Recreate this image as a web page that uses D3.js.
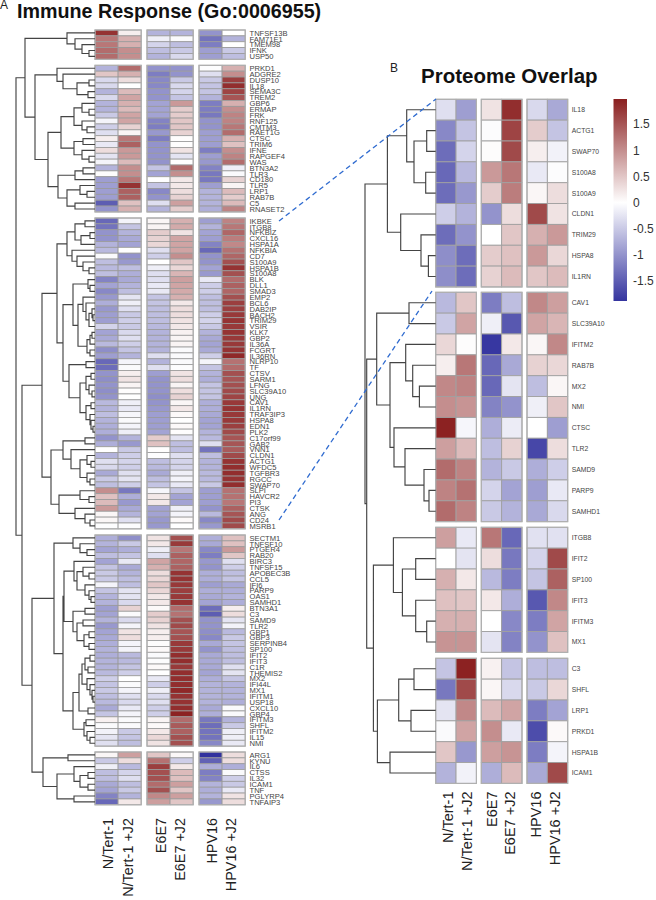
<!DOCTYPE html>
<html>
<head>
<meta charset="utf-8">
<script src="https://cdn.jsdelivr.net/npm/d3@7/dist/d3.min.js"></script>
<style>
html,body{margin:0;padding:0;background:#fff;overflow:hidden}
svg{display:block}
text{font-family:"Liberation Sans",Arial,sans-serif}
</style>
</head>
<body>
<svg id="chart" width="656" height="900"></svg>
<script>
const titleA = "Immune Response (Go:0006955)";
const titleB = "Proteome Overlap";
const conditions = ["N/Tert-1","N/Tert-1 +J2","E6E7","E6E7 +J2","HPV16","HPV16 +J2"];
const legendTicks = [1.5,1,0.5,0,-0.5,-1,-1.5];

// Panel A: genes per cluster
const genesA1 = ["TNFSF13B","FAM71E1","TMEM98","IFNK","USP50"];
const genesA2 = ["PRKD1","ADGRE2","DUSP10","IL18","SEMA3C","TREM2","GBP6","ERMAP","FRK","RNF125","CMTM3","RAET1G","CTSC","TRIM6","IFNE","RAPGEF4","WAS","BTN3A2","TLR3","CD180","TLR5","LRP1","RAB7B","C5","RNASET2"];
const genesA3 = ["IKBKE","ITGB8","NFKBIZ","CXCL16","HSPA1A","NFKBIA","CD7","S100A9","HSPA1B","S100A8","BLK","DLL1","SMAD3","EMP2","BCL6","DAB2IP","BACH2","TRIM29","VSIR","KLK7","GBP2","IL36A","FCGRT","IL36RN","NLRP10","TF","CTSV","SARM1","LFNG","SLC39A10","UNG","CAV1","IL1RN","TRAF3IP3","HSPA8","EDN1","PLK2","C17orf99","GAB2","VNN1","CLDN1","ACTG1","WFDC5","TGFBR3","RGCC","SWAP70","SLPI","HAVCR2","PI3","CTSK","ANG","CD24","MSRB1"];
const genesA4 = ["SECTM1","TNFSF10","PTGER4","RAB20","BIRC3","TNFSF15","APOBEC3B","CCL5","IFI6","PARP9","OAS1","SAMHD1","BTN3A1","C3","SAMD9","TLR2","GBP1","GBP3","SERPINB4","SP100","IFIT2","IFIT3","C1R","THEMIS2","MX2","IFI44L","MX1","IFITM1","USP18","CXCL10","GBP4","IFITM3","SHFL","IFITM2","IL15","NMI"];
const genesA5 = ["ARG1","KYNU","IL6","CTSS","IL32","ICAM1","TNF","PGLYRP4","TNFAIP3"];

const valuesA1 = [[1.8,0.15,-0.7,-0.7,-1.0,0],[1.2,0.7,-0.15,-0.05,-1.3,-0.7],[1.2,0.7,-0.4,-0.6,-1.2,0],[1.3,1.0,-0.6,-0.5,-0.9,-0.5],[1.3,1.0,-0.7,-0.35,-0.9,-0.6]];
const valuesA2 = [[-0.7,1.3,-1.0,-1.0,-0.02,0.7],[0.5,0.7,-1.2,-1.0,-0.3,1.0],[-0.35,0.3,-1.1,-0.5,-0.5,1.7],[-0.35,0,-1.1,-0.35,-0.55,1.85],[-0.7,0.6,-1.0,-0.4,-0.55,1.65],[-0.35,0.8,-1.0,-0.55,-0.7,1.5],[-0.7,0.7,-0.85,0.9,-1.2,0.7],[-0.7,0.6,-0.85,0.45,-1.2,1.0],[-0.5,0.8,-0.85,0.45,-1.25,1.1],[-0.1,0.8,-1.15,0.5,-1.0,1.1],[-0.45,0.4,-1.2,0.5,-1.0,1.2],[-0.3,0.1,-0.95,0.4,-0.9,1.3],[0.15,1.2,-1.2,0.02,-0.9,0.7],[-0.2,1.4,-1.0,0.02,-0.9,0.55],[0.3,0.9,-1.0,0.25,-1.2,1.0],[-0.25,0.9,-1.0,-0.25,-0.9,1.1],[-0.1,0.6,-1.0,0,-0.95,1.3],[-0.7,1.0,-0.55,1.3,-1.15,-0.15],[0.03,1.0,-0.85,1.0,-1.25,-0.05],[-0.9,1.2,0,0.2,-1.25,0.4],[-0.9,1.8,-0.55,0.2,-0.9,0.1],[-0.9,1.4,-1.1,0.3,-0.7,0.6],[-0.9,1.4,-1.0,0.4,-0.7,0.45],[-1.5,0.55,-0.3,0.85,-0.7,0.6],[-1.0,0.7,-0.7,0.45,-0.75,1.1]];
const valuesA3 = [[-1.4,-0.1,0.08,0.7,-0.9,1.1],[-1.3,-0.55,0.1,0.75,-0.7,1.2],[-1.0,-0.7,0.45,0.25,-0.85,1.35],[-1.0,-0.8,0.4,0.8,-0.9,1.15],[-0.7,-0.85,0.35,0.8,-1.15,1.05],[-0.65,0,-0.3,0.8,-1.4,1.25],[-0.05,-1.0,-0.45,1.0,-1.0,1.35],[-0.6,-0.95,0,0.5,-1.0,1.55],[-0.65,-0.6,-0.15,0.35,-0.85,1.8],[-0.6,-0.75,-0.3,0.65,-0.95,1.55],[-1.15,-0.8,-0.3,0.85,-0.2,1.3],[-0.85,-0.7,-0.2,0.8,-0.45,1.4],[-1.1,-0.6,-0.2,0.75,-0.45,1.35],[-0.95,-0.25,-0.55,0.7,-0.6,1.55],[-0.75,-0.15,-0.55,0.2,-0.6,1.7],[-0.95,-0.3,-0.6,0.3,-0.6,1.7],[-0.9,-0.5,-0.6,0.3,-0.45,1.75],[-0.9,-0.45,-0.6,0.25,-0.4,1.8],[-0.4,-0.5,-0.65,0.2,-0.5,1.75],[-0.85,-0.35,-0.7,0.12,-0.7,1.8],[-0.8,-0.3,-0.7,0.1,-0.8,1.75],[-0.65,-0.45,-0.7,0.1,-0.85,1.75],[-1.05,-0.55,-0.7,-0.05,-0.8,1.8],[-0.9,-0.7,-0.3,-0.05,-0.45,1.9],[-1.4,-0.1,-0.7,-0.05,-0.1,1.25],[-1.35,-0.05,-0.3,-0.02,-0.55,1.3],[-1.0,0.15,-0.9,0.25,-0.7,1.55],[-1.05,0.25,-1.0,0.3,-0.75,1.5],[-1.0,0.1,-1.0,0.1,-0.55,1.55],[-1.05,0.02,-1.0,0.3,-0.55,1.6],[-1.0,0,-1.05,0.4,-0.55,1.65],[-0.65,-0.15,-1.0,0.08,-0.75,1.75],[-0.7,-0.2,-0.95,0.2,-0.75,1.8],[-0.6,-0.08,-0.9,0.05,-0.8,1.75],[-0.7,-0.05,-0.9,0,-0.85,1.75],[-0.75,-0.1,-0.9,0.05,-0.85,1.7],[-0.75,-0.15,-0.85,0.02,-0.7,1.6],[-1.0,-0.7,0.45,-0.25,-0.65,1.5],[-0.75,-0.95,0.55,-0.6,-0.3,1.5],[0,-0.5,0.02,-0.6,-1.3,1.45],[-0.7,-0.45,-0.02,-0.3,-0.6,1.6],[-0.3,-0.4,-0.6,-0.4,-0.7,1.8],[-0.35,-0.45,-0.65,-0.4,-0.7,1.85],[-0.8,-0.3,-0.8,-0.15,-0.65,1.85],[-0.5,-0.25,-0.6,-0.1,-0.65,1.8],[-0.6,-0.45,-0.55,-0.2,-0.5,1.85],[1.0,-1.25,-0.08,-0.55,-0.9,1.25],[0.55,-0.75,0.2,-0.85,-0.9,1.25],[0.6,-0.95,0.2,-0.85,-0.9,1.2],[0.9,-0.8,-0.85,-0.15,-1.0,1.4],[0.08,-0.7,-0.85,-0.1,-0.65,1.5],[0.08,-0.3,-0.95,0.05,-1.1,1.6],[-0.02,-0.03,-0.95,0,-0.95,1.6]];
const valuesA4 = [[-0.75,-1.05,0.25,1.55,-0.75,0.55],[-0.7,-0.5,0.2,1.75,-0.8,0.55],[-0.85,-0.75,-0.15,1.2,-1.1,0.9],[-0.6,-0.55,-0.3,1.4,-1.2,0.5],[-0.85,-0.2,0.8,1.35,-0.95,-0.3],[-0.55,-0.8,0.7,1.4,-1.0,-0.45],[-0.5,-0.7,0.3,1.8,-0.75,-0.6],[-0.5,-0.6,0.35,1.8,-0.75,-0.55],[-0.1,-0.6,0.5,1.75,-0.9,-0.8],[-0.55,-0.25,0.35,1.7,-0.75,-0.75],[-0.7,-0.25,0.2,1.75,-0.8,-0.7],[-0.7,-0.35,0.2,1.8,-0.85,-0.75],[-0.9,0.4,0.05,1.3,-1.35,0.15],[-0.85,-0.05,0.45,1.25,-1.5,0.3],[-0.7,-0.35,0.4,1.55,-1.0,-0.25],[-0.95,-0.1,0.25,1.6,-1.0,-0.12],[-0.85,0.25,0.15,1.5,-1.05,-0.65],[-0.8,0.3,0.15,1.55,-1.1,-0.5],[-0.75,-0.1,0.03,1.75,-0.8,-0.55],[-0.7,-0.1,0.05,1.75,-1.0,-0.6],[-0.75,-0.65,-0.05,1.85,-0.8,-0.6],[-0.7,-0.65,-0.03,1.85,-0.8,-0.6],[-0.7,-0.55,0.05,1.75,-0.8,-0.3],[-0.65,-0.45,0,1.85,-0.85,-0.25],[-0.45,0,-0.2,1.85,-0.75,-0.55],[-0.55,-0.05,-0.45,1.85,-0.7,-0.7],[-0.5,-0.1,-0.15,1.9,-0.7,-0.7],[-0.6,-0.3,-0.35,1.8,-0.7,-0.7],[-0.65,-0.35,-0.3,1.8,-0.7,-0.75],[-0.8,-0.2,-0.45,1.85,-0.8,-0.05],[-0.55,-0.1,-0.45,1.95,-0.75,-0.05],[0.12,-0.05,0.1,1.3,-1.25,-0.7],[-0.05,-0.05,0.05,1.45,-1.35,-0.5],[-0.12,-0.5,0.2,1.4,-1.3,-0.15],[-0.25,-0.55,0.35,1.55,-1.3,-0.15],[-0.3,-0.6,0.25,1.55,-1.1,-0.2]];
const valuesA5 = [[0.08,0.85,0.5,0.06,-1.9,0.3],[-0.5,0.3,1.25,-0.45,-1.45,0.3],[-0.15,-0.65,1.7,0.2,-0.75,-0.75],[-0.6,-0.4,1.55,0.6,-1.2,-0.05],[-0.6,-0.3,1.55,0.55,-1.15,-0.45],[-0.8,-0.6,1.3,0.85,-0.7,-0.5],[-0.85,-0.5,1.55,0.5,-0.75,-0.2],[-1.15,-0.7,1.05,0.85,-0.7,0.25],[-1.4,0.2,0.85,0.5,-0.95,0.3]];

// Panel B
const genesB1 = ["IL18","ACTG1","SWAP70","S100A8","S100A9","CLDN1","TRIM29","HSPA8","IL1RN"];
const genesB2 = ["CAV1","SLC39A10","IFITM2","RAB7B","MX2","NMI","CTSC","TLR2","SAMD9","PARP9","SAMHD1"];
const genesB3 = ["ITGB8","IFIT2","SP100","IFIT3","IFITM3","MX1"];
const genesB4 = ["C3","SHFL","LRP1","PRKD1","HSPA1B","ICAM1"];
const valuesB1 = [[-0.3,-0.9,0.25,1.85,-0.35,-0.8],[-1.1,-0.55,-0.03,1.65,0.45,-0.55],[-1.35,-0.4,0.03,1.6,0.15,-0.12],[-1.4,-0.65,0.9,1.2,-0.2,-0.03],[-1.35,-0.95,0.45,1.15,0.08,0.3],[-0.45,-0.7,-1.0,0.3,1.6,0.25],[-1.35,-1.0,0,0.5,0.7,0.9],[-1.05,-1.35,0.45,0.55,0.9,0.35],[-1.05,-1.35,0.4,0.6,0.5,0.6]];
const valuesB2 = [[-0.65,0.5,-1.2,-0.6,1.05,0.85],[-0.5,0.8,-0.15,-1.55,0.8,0.65],[0.35,0.03,-1.85,0.2,0.08,1.05],[0.15,1.2,-1.4,-0.8,0.4,0.35],[1.05,1.1,-1.4,-0.25,-0.6,0.08],[1.0,0.95,-1.15,-1.0,-0.15,0.5],[1.95,-0.08,-0.75,-0.18,0,-0.9],[0.85,0.6,-0.6,0.4,-1.7,0.3],[1.3,1.1,-0.7,-0.5,-0.75,-0.45],[1.1,1.25,-0.4,-0.85,-0.9,-0.2],[1.3,1.1,-0.5,-0.7,-0.8,-0.35]];
const valuesB3 = [[0.85,-0.2,1.2,-1.4,-0.28,-0.28],[0,-0.25,0.3,-1.25,-0.4,1.6],[0.7,0.2,-0.65,-1.2,-0.55,1.4],[0.55,0.5,0.2,-0.75,-1.55,1.05],[0.7,0.7,0,-1.1,-1.2,0.8],[0.95,0.95,-0.25,-1.15,-1.0,0.55]];
const valuesB4 = [[-0.55,1.95,0.12,-0.55,-0.6,-0.6],[-1.25,1.6,0.08,-0.35,-0.5,0.35],[-0.25,1.05,0.6,0.8,-1.2,-0.85],[-0.05,0.8,1.0,-0.2,-1.65,0.05],[0.5,-0.95,0.85,0.95,-1.2,-0.1],[-0.7,-0.12,-0.75,0.6,-0.8,1.6]];

// Dendrograms: [merge height, child, child]; 0 is the next gene in row order
const treeA1 = [28,0,[20,0,[13,0,[6,0,0]]]];
const treeA2 = [60,[38,0,[32,0,[18,[6,0,0],[7,0,0]]]],[47,[34,[21,[13,0,[6,0,0]],[13,0,[8,0,0]]],[21,[12,0,0],[13,0,[6,0,0]]]],[37,[20,[12,0,0],0],[28,[15,0,[8,0,0]],[20,0,0]]]]];
const treeA3 = [53,[38,[28,[20,[10,0,0],[14,[5,0,0],0]],[23,0,[18,0,[12,0,[6,0,0]]]]],[32,[22,[7,0,[5,0,0]],[17,[12,0,[9,0,[6,[3,0,[2,0,0]],0]]],[8,[5,[3,0,0],0],[5,0,0]]]],[26,[9,0,0],[15,[9,[4,0,0],[6,0,[3,0,0]]],[9,[4,0,0],[5,0,[4,0,[2,0,0]]]]]]]],[44,[32,[10,0,0],[24,0,[15,[8,0,[4,0,0]],[8,0,[5,0,0]]]]],[36,[15,0,[6,0,0]],[20,0,[10,0,[5,0,0]]]]]];
const treeA4 = [41,[22,0,[15,0,[8,0,0]]],[32,[31,[21,0,[18,[12,0,[6,0,0]],[10,0,[6,0,[4,0,0]]]]],[22,[10,0,0],[18,[12,0,0],[11,[6,0,0],[6,0,0]]]]],[22,[16,[13,[10,[5,0,0],[7,0,0]],[8,0,[5,0,[3,0,[2,0,0]]]]],[7,0,0]],[11,[9,0,0],[8,0,[5,0,0]]]]]];
const treeA5 = [52,[27,0,0],[38,[21,0,[15,[7,0,0],[7,0,0]]],[21,0,0]]];
const treeA = [79,[70,treeA1,treeA2],[73,treeA3,[63,treeA4,treeA5]]];
const treeB1 = [48.3,[29,0,[21.7,[9,0,0],[10,0,0]]],[35,0,[14.7,0,[7.3,0,0]]]];
const treeB2 = [59,[26.7,0,0],[45.7,[30,0,[23,0,[16.3,0,0]]],[41.7,0,[30.7,0,[11.7,0,[6.7,0,0]]]]]];
const treeB3 = [42.3,0,[33.3,[20,0,0],[20,0,[9,0,0]]]];
const treeB4 = [58.3,[37,[21.7,0,0],[24.7,0,0]],[45.7,0,0]];
const treeB = [70.7,treeB1,[69,treeB2,[62.3,treeB3,treeB4]]];

const LOW=-1.88, HIGH=1.98;
const color = d3.scaleLinear().domain([LOW,0,HIGH]).range(["#34349f","#ffffff","#8a1f1f"]);
const svg = d3.select("#chart");

function heatmap(cfg){
  const g = svg.append("g");
  const rowScales = cfg.genes.map((names,i)=>d3.scaleBand().domain(names).range([cfg.tops[i],cfg.tops[i]+names.length*cfg.rowH]));
  const colScales = cfg.lefts.map((x,i)=>d3.scaleBand().domain(conditions.slice(i*2,i*2+2)).range([x,x+2*cfg.colW]));
  const col = c => colScales[Math.floor(conditions.indexOf(c)/2)];
  cfg.genes.forEach((names,gi)=>{
    const y = rowScales[gi];
    names.forEach((gene,ri)=>{
      g.selectAll(null).data(cfg.values[gi][ri]).enter().append("rect")
        .attr("x",(d,i)=>col(conditions[i])(conditions[i]))
        .attr("y",y(gene))
        .attr("width",cfg.colW).attr("height",y.bandwidth())
        .attr("fill",d=>color(d))
        .attr("stroke",cfg.cellStroke).attr("stroke-width",cfg.cellWidth);
    });
    g.selectAll(null).data(names).enter().append("text")
      .attr("x",cfg.labelX).attr("y",d=>y(d)+y.bandwidth()/2)
      .attr("dy","0.36em").attr("font-size",cfg.labelSize).attr("fill",cfg.labelFill)
      .text(d=>d);
    cfg.lefts.forEach(x=>{
      g.append("rect").attr("x",x).attr("y",y.range()[0])
       .attr("width",2*cfg.colW).attr("height",names.length*cfg.rowH)
       .attr("fill","none").attr("stroke","#b0b0b0").attr("stroke-width",1.2);
    });
  });
  // dendrogram
  const allRows = [];
  cfg.genes.forEach((names,gi)=>names.forEach(n=>allRows.push(rowScales[gi](n)+rowScales[gi].bandwidth()/2)));
  const root = d3.hierarchy(cfg.tree,d=>Array.isArray(d)?d.slice(1):null);
  const hx = d3.scaleLinear().domain(cfg.heightDomain).range([cfg.lefts[0],cfg.lefts[0]-cfg.heightDomain[1]]);
  let next=0;
  (function place(n){
    if(n.children){ n.children.forEach(place); n.py=d3.mean(n.children,c=>c.py); n.px=hx(n.data[0]); }
    else { n.py=allRows[next++]; n.px=hx(0); }
  })(root);
  const path = d3.path();
  root.descendants().filter(n=>n.children).forEach(n=>{
    const [a,b]=n.children;
    path.moveTo(a.px,a.py); path.lineTo(n.px,a.py); path.lineTo(n.px,b.py); path.lineTo(b.px,b.py);
  });
  g.append("path").attr("d",path.toString()).attr("fill","none")
   .attr("stroke","#444").attr("stroke-width",1.15);
  // condition labels
  g.selectAll(null).data(conditions).enter().append("text")
    .attr("transform",(d,i)=>`translate(${cfg.condX[i]},${cfg.condTop}) rotate(-90)`)
    .attr("text-anchor","end").attr("font-size",cfg.condSize).attr("fill","#222").text(d=>d);
}

heatmap({
  genes:[genesA1,genesA2,genesA3,genesA4,genesA5],
  values:[valuesA1,valuesA2,valuesA3,valuesA4,valuesA5],
  tree:treeA, heightDomain:[0,80],
  tops:[30,65.3,218,535,752], rowH:5.865,
  lefts:[95,147,199], colW:23.1,
  labelX:249.5, labelSize:7.6, labelFill:"#444",
  cellStroke:"#9a9a9a", cellWidth:0.8,
  condX:[113,132.7,165.7,185,217,236], condTop:818, condSize:14.4
});
heatmap({
  genes:[genesB1,genesB2,genesB3,genesB4],
  values:[valuesB1,valuesB2,valuesB3,valuesB4],
  tree:treeB, heightDomain:[0,71],
  tops:[99.3,292.3,527.3,658.3], rowH:20.85,
  lefts:[435.7,481.3,527], colW:20.35,
  labelX:571.7, labelSize:6.8, labelFill:"#444",
  cellStroke:"#a0a0a0", cellWidth:0.9,
  condX:[452.7,471.7,496.7,515,540.7,560], condTop:791.5, condSize:14.5
});

// titles
svg.append("text").attr("x",17).attr("y",18).attr("font-size",19.7).attr("font-weight","bold").attr("fill","#111").text(titleA);
svg.append("text").attr("x",421).attr("y",82.5).attr("font-size",20.5).attr("font-weight","bold").attr("fill","#111").text(titleB);
svg.append("text").attr("x",0).attr("y",9).attr("font-size",12).attr("fill","#222").text("A");
svg.append("text").attr("x",390).attr("y",72).attr("font-size",12).attr("fill","#222").text("B");

// colour legend
const legendY = d3.scaleLinear().domain([LOW,HIGH]).range([301,99]);
const defs = svg.append("defs");
const grad = defs.append("linearGradient").attr("id","legendGrad").attr("x1",0).attr("x2",0).attr("y1",1).attr("y2",0);
grad.selectAll("stop").data([LOW,0,HIGH]).enter().append("stop")
  .attr("offset",d=>(d-LOW)/(HIGH-LOW)).attr("stop-color",d=>color(d));
svg.append("rect").attr("x",613.5).attr("y",legendY(HIGH)).attr("width",13.5)
  .attr("height",legendY(LOW)-legendY(HIGH)).attr("fill","url(#legendGrad)");
svg.selectAll(".lt").data(legendTicks).enter().append("text").attr("class","lt")
  .attr("x",633).attr("y",d=>legendY(d)).attr("dy","0.36em").attr("font-size",12).attr("fill","#333")
  .text(d=>String(d));

// zoom guide lines
const zoomLinks = [[[279,221],[436,99]],[[279,520],[432,291]]];
svg.selectAll(".zl").data(zoomLinks).enter().append("path").attr("class","zl")
  .attr("d",d=>d3.line()(d)).attr("fill","none").attr("stroke","#2f6bd0")
  .attr("stroke-width",1.3).attr("stroke-dasharray","5,3.5");
</script>
</body>
</html>
